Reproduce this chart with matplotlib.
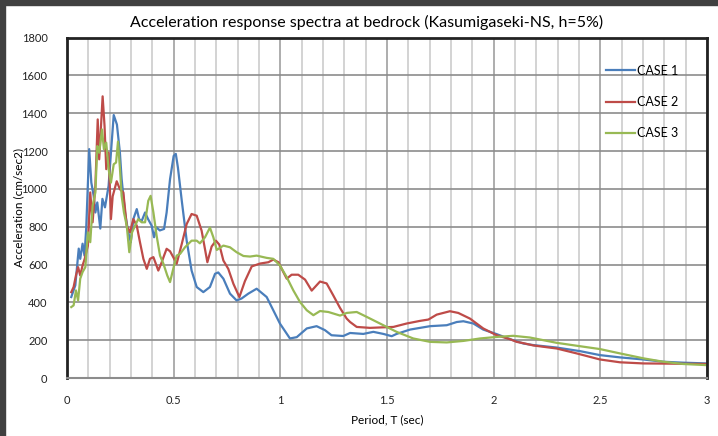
import matplotlib.pyplot as plt
from matplotlib.patches import Rectangle
import numpy as np

plt.rcParams['font.family'] = ['Lato', 'DejaVu Sans']

# CASE 1 (blue)
t1 = [0.02, 0.039, 0.055, 0.062, 0.073, 0.082, 0.09, 0.104, 0.114, 0.125, 0.133, 0.142, 0.156, 0.166,
      0.178, 0.195, 0.206, 0.219, 0.234, 0.248, 0.256, 0.272, 0.287, 0.299, 0.311, 0.327, 0.338, 0.35,
      0.366, 0.38, 0.397, 0.408, 0.42, 0.435, 0.455, 0.467, 0.483, 0.5, 0.51, 0.52, 0.538, 0.561, 0.584,
      0.608, 0.639, 0.67, 0.694, 0.709, 0.733, 0.764, 0.795, 0.818, 0.85, 0.889, 0.936, 0.998, 1.045,
      1.077, 1.124, 1.17, 1.209, 1.24, 1.295, 1.327, 1.389, 1.436, 1.483, 1.522, 1.545, 1.608, 1.702,
      1.78, 1.827, 1.858, 1.905, 1.951, 2.014, 2.077, 2.14, 2.186, 2.295, 2.405, 2.498, 2.592, 2.701,
      2.795, 2.889, 3.0]
a1 = [428, 490, 684, 630, 710, 647, 790, 1210, 1033, 963, 875, 928, 790, 947,
      902, 1016, 1191, 1390, 1340, 1191, 1053, 875, 770, 718, 840, 893, 840, 830,
      875, 840, 805, 744, 796, 780, 788, 875, 1051, 1174, 1185, 1112, 937, 726, 568,
      481, 454, 481, 551, 558, 525, 446, 410, 420, 446, 472, 428, 288, 209,
      216, 262, 274, 253, 226, 222, 238, 233, 244, 233, 221, 233, 256, 274,
      279, 296, 300, 288, 256, 232, 205, 182, 174, 161, 142, 121, 109, 98,
      86, 81, 77]

# CASE 2 (red)
t2 = [0.02, 0.031, 0.042, 0.052, 0.062, 0.073, 0.083, 0.098, 0.109, 0.12, 0.133, 0.144, 0.151, 0.167,
      0.176, 0.184, 0.195, 0.206, 0.214, 0.233, 0.248, 0.264, 0.28, 0.295, 0.311, 0.327, 0.342, 0.358,
      0.374, 0.389, 0.405, 0.428, 0.444, 0.455, 0.467, 0.483, 0.498, 0.514, 0.538, 0.561, 0.584, 0.608,
      0.631, 0.658, 0.678, 0.698, 0.714, 0.733, 0.756, 0.78, 0.808, 0.834, 0.866, 0.905, 0.944, 0.967,
      0.991, 1.014, 1.03, 1.053, 1.084, 1.116, 1.147, 1.186, 1.217, 1.248, 1.28, 1.311, 1.327, 1.358,
      1.42, 1.53, 1.592, 1.655, 1.694, 1.733, 1.795, 1.834, 1.889, 1.951, 2.014, 2.077, 2.108, 2.14,
      2.186, 2.295, 2.389, 2.498, 2.592, 2.702, 2.811, 3.0]
a2 = [454, 481, 542, 586, 542, 595, 630, 700, 981, 823, 1016, 1367, 1156, 1489,
      1332, 1104, 1191, 840, 960, 1040, 998, 981, 805, 770, 840, 805, 718, 630,
      577, 630, 639, 568, 612, 647, 683, 670, 639, 604, 709, 814, 867, 858,
      779, 612, 695, 726, 705, 621, 577, 498, 428, 512, 590, 605, 612, 626,
      612, 560, 525, 546, 546, 520, 462, 510, 500, 437, 370, 314, 296, 270,
      265, 270, 288, 302, 309, 335, 353, 344, 314, 262, 226, 205, 191, 184,
      172, 156, 130, 98, 83, 77, 76, 74]

# CASE 3 (green)
t3 = [0.02, 0.031, 0.042, 0.052, 0.062, 0.073, 0.086, 0.098, 0.109, 0.12, 0.133, 0.142, 0.151, 0.164,
      0.173, 0.184, 0.195, 0.206, 0.219, 0.23, 0.239, 0.248, 0.256, 0.267, 0.28, 0.292, 0.305, 0.319,
      0.334, 0.35, 0.366, 0.381, 0.392, 0.405, 0.42, 0.436, 0.452, 0.47, 0.483, 0.498, 0.514, 0.53,
      0.553, 0.584, 0.608, 0.623, 0.647, 0.67, 0.686, 0.702, 0.733, 0.764, 0.795, 0.827, 0.858, 0.889,
      0.936, 0.967, 0.998, 1.03, 1.061, 1.092, 1.124, 1.155, 1.186, 1.225, 1.28, 1.311, 1.358, 1.405,
      1.467, 1.545, 1.623, 1.702, 1.78, 1.858, 1.936, 2.014, 2.092, 2.17, 2.295, 2.405, 2.498, 2.592,
      2.702, 2.795, 2.889, 3.0]
a3 = [375, 384, 463, 410, 525, 560, 586, 770, 718, 910, 981, 1226, 1191, 1314,
      1209, 1244, 1104, 1033, 1130, 1139, 1250, 1110, 963, 875, 805, 665, 770, 805,
      840, 823, 823, 937, 963, 875, 753, 647, 604, 542, 507, 577, 647, 656,
      691, 726, 726, 712, 744, 795, 744, 677, 700, 691, 665, 645, 642, 647,
      635, 630, 595, 533, 463, 402, 358, 332, 354, 349, 330, 344, 349, 323,
      288, 244, 209, 191, 188, 196, 209, 217, 223, 214, 186, 168, 153, 130,
      104, 86, 74, 68]

labels = ["CASE 1", "CASE 2", "CASE 3"]
colors = ["#4a7ebb", "#be4b48", "#98b954"]

fig = plt.figure(figsize=(7.18, 4.36), dpi=100)
# dark slide frame on top / left
fig.patches.append(Rectangle((0, 0), 5 / 718, 1, transform=fig.transFigure, color="#404040", zorder=-1))
fig.patches.append(Rectangle((0, 1 - 5 / 436), 1, 5 / 436, transform=fig.transFigure, color="#404040", zorder=-1))

ax = fig.add_axes([67 / 718, 1 - 378 / 436, 640 / 718, 340.5 / 436])

for t, a, lab, c in zip([t1, t2, t3], [a1, a2, a3], labels, colors):
    ax.plot(t, a, color=c, lw=1.6, label=lab, solid_joinstyle="round")

ax.set_xlim(0, 3)
ax.set_ylim(0, 1800)
ax.set_xticks(np.arange(0, 3.01, 0.5))
ax.set_xticklabels(["0", "0.5", "1", "1.5", "2", "2.5", "3"])
ax.set_yticks(np.arange(0, 1801, 200))
ax.set_xticks(np.arange(0, 3.01, 0.1), minor=True)
ax.tick_params(which="both", length=0, labelsize=8, colors="#222222")
ax.tick_params(axis="x", pad=12)
ax.tick_params(axis="y", pad=14)

ax.grid(axis="y", which="major", color="#8c8c8c", lw=1.2)
ax.grid(axis="x", which="minor", color="#cccccc", lw=1.2)
ax.grid(axis="x", which="major", color="#a0a0a0", lw=1.2)
ax.set_axisbelow(True)

for s in ["left", "right", "top"]:
    ax.spines[s].set_color("#222222")
    ax.spines[s].set_linewidth(2)
ax.spines["bottom"].set_color("#8c8c8c")
ax.spines["bottom"].set_linewidth(1.5)

ax.set_xlabel("Period, T (sec)", fontsize=8.5, labelpad=6)
ax.set_ylabel("Acceleration (cm/sec2)", fontsize=8.5)
ax.yaxis.set_label_coords(-0.067, 0.5)
fig.text(367 / 718, 1 - 22 / 436, "Acceleration response spectra at bedrock (Kasumigaseki-NS, h=5%)",
         ha="center", va="center", fontsize=11.5)

ax.legend(loc="upper left", bbox_to_anchor=(0.834, 0.935), frameon=False, fontsize=9,
          handlelength=2.3, handletextpad=0.2, labelspacing=1.55, borderaxespad=0)

fig.savefig("out.png", dpi=100)
